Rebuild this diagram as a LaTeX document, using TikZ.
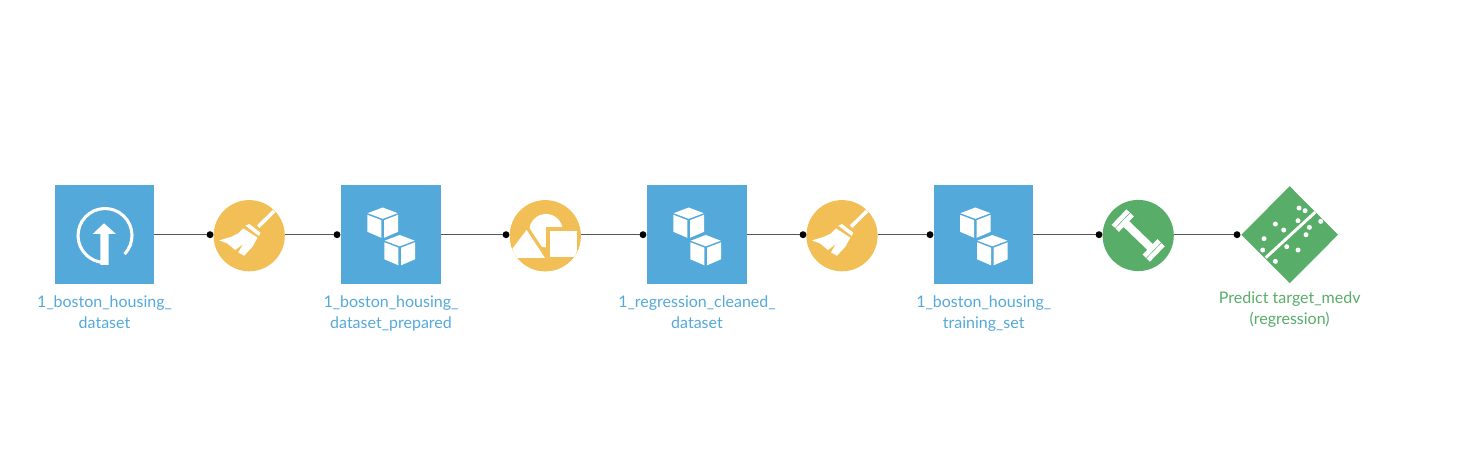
\documentclass[tikz,border=0pt]{standalone}
\usepackage{fontspec}
\setmainfont{Lato}
\definecolor{dsblue}{HTML}{54A9DB}
\definecolor{dsorange}{HTML}{F2BF56}
\definecolor{dsgreen}{HTML}{58AD68}
\definecolor{dsline}{HTML}{555555}
\tikzset{
  x=0.75pt,y=-0.75pt,
  dataset/.style={draw=none,fill=dsblue,minimum size=74.6pt,inner sep=0pt,outer sep=0pt},
  recipe/.style={circle,draw=none,fill=#1,minimum size=53.4pt,inner sep=0pt,outer sep=0pt},
  modelbox/.style={draw=none,inner sep=0pt,outer sep=0pt,minimum size=1pt},
  portdot/.style={circle,fill=black,minimum size=5.2pt,inner sep=0pt,outer sep=0pt},
  link/.style={draw=dsline,line width=0.95pt},
  lab/.style={align=center,font=\fontsize{12pt}{15.8pt}\selectfont,inner sep=0pt},
  cubeicon/.pic={
    \foreach \ox/\oy in {-8.3/-27,8.7/0.5}{
      \begin{scope}[shift={(\ox,\oy)}]
      \fill[white] (0,0)--(15,5.7)--(0,11.3)--(-15,5.7)--cycle;
      \fill[white] (-15.3,7.3)--(-1.3,12.7)--(-1.3,30.3)--(-15.3,24.3)--cycle;
      \fill[white] (15.3,7.3)--(1.3,12.7)--(1.3,30.3)--(15.3,24.3)--cycle;
      \end{scope}
    }
  },
  uploadicon/.pic={
    \draw[white,line width=2.3pt] (20.1,19.6) arc[start angle=43.5,end angle=-268,radius=27];
    \fill[white] (-0.5,-11.2)--(11.5,-0.5)--(4.2,-0.5)--(4.2,30.5)--(-4.2,30.5)--(-4.2,-0.5)--(-11.8,-0.5)--cycle;
  },
  broomicon/.pic={
    \draw[white,line width=2.7pt] (25,-24.7)--(9,-9);
    \fill[white] (-3.7,-10)--(0,-11.7)--(11.3,-3)--(9.7,0.3)--cycle;
    \fill[white] (-6,-7.3)--(8.3,2)--(3.3,11)--(-5,20)--(-11,16.7)--(-6,8.3)--(-14,14.3)--(-22,7.7)--(-30,4.7)--(-17.7,1)--(-11,-2.3)--cycle;
  },
  shapeicon/.pic={
    \begin{scope}
      \clip (0,0) circle[radius=35.6];
      \fill[white] (0.7,-5) circle[radius=16.7];
      \draw[dsorange,line width=5pt,line join=miter] (-18.7,-5.7)--(-40.3,22.7)--(0,22.7)--cycle;
      \fill[white] (-18.7,-5.7)--(-40.3,22.7)--(0,22.7)--cycle;
      \draw[dsorange,line width=6pt] (4.7,-5) rectangle (31.7,21.7);
      \fill[white] (4.7,-5) rectangle (31.7,21.7);
      \fill[dsorange] (-38,22.7) rectangle (40,40);
    \end{scope}
  },
  dumbbellicon/.pic={
    \begin{scope}[rotate=-44]
      \fill[white] (-17,-4) rectangle (17,4);
      \fill[white] (-21.2,-10.7) rectangle (-16.4,10.7);
      \fill[white] (16.4,-10.7) rectangle (21.2,10.7);
      \fill[white] (-26.6,-10.7) rectangle (-22,10.7);
      \fill[white] (22,-10.7) rectangle (26.6,10.7);
    \end{scope}
  },
  modelicon/.pic={
    \fill[dsgreen] (-48.3,0)--(0,-48.5)--(48.3,0)--(0,48.5)--cycle;
    \draw[white,line width=2.2pt] (25.5,-22.5)--(-24,23);
    \foreach \a/\b in {657/114,675/122,586/162,654/152,722/154,688/172,611/180,678/194,552/206,548/240,620/230,654/240,586/274}{
      \fill[white] ({(\a-629)/3},{(\b-194)/3}) circle[radius=2.5];
    }
  }
}
\begin{document}
\begin{tikzpicture}
\useasboundingbox (0,0) rectangle (1464,466);
% main nodes
\node[dataset] (d1) at (104.5,234.5) {};
\node[recipe=dsorange] (r1) at (249.2,235.7) {};
\node[dataset] (d2) at (391,234.5) {};
\node[recipe=dsorange] (r2) at (545.3,235.7) {};
\node[dataset] (d3) at (697,234.5) {};
\node[recipe=dsorange] (r3) at (842,235.7) {};
\node[dataset] (d4) at (983.7,234.5) {};
\node[recipe=dsgreen] (r4) at (1138.2,235.5) {};
\node[modelbox] (m) at (1289.7,234.7) {};
% ports
\node[portdot] (p1) at (210,234.7) {};
\node[portdot] (p2) at (337,234.7) {};
\node[portdot] (p3) at (506,234.7) {};
\node[portdot] (p4) at (643,234.7) {};
\node[portdot] (p5) at (803,234.7) {};
\node[portdot] (p6) at (930,234.7) {};
\node[portdot] (p7) at (1099,234.7) {};
\node[portdot] (p8) at (1237,234.7) {};
% connectors
\draw[link] (d1.east |- p1) -- (p1);
\draw[link] (r1.east |- p2) -- (p2);
\draw[link] (d2.east |- p3) -- (p3);
\draw[link] (r2.east |- p4) -- (p4);
\draw[link] (d3.east |- p5) -- (p5);
\draw[link] (r3.east |- p6) -- (p6);
\draw[link] (d4.east |- p7) -- (p7);
\draw[link] (r4.east |- p8) -- (p8);
% icons
\pic at (d1.center) {uploadicon};
\pic at (r1.center) {broomicon};
\pic at (d2.center) {cubeicon};
\pic at (r2.center) {shapeicon};
\pic at (d3.center) {cubeicon};
\pic at (r3.center) {broomicon};
\pic at (d4.center) {cubeicon};
\pic at (r4.center) {dumbbellicon};
\pic at (m.center) {modelicon};
% labels
\node[lab,text=dsblue,anchor=north] (l1) at (104.5,295) {1\_boston\_housing\_\\dataset};
\node[lab,text=dsblue,anchor=north] (l2) at (391,295) {1\_boston\_housing\_\\dataset\_prepared};
\node[lab,text=dsblue,anchor=north] (l3) at (697,295) {1\_regression\_cleaned\_\\dataset};
\node[lab,text=dsblue,anchor=north] (l4) at (983.7,295) {1\_boston\_housing\_\\training\_set};
\node[lab,text=dsgreen,anchor=north] (l5) at (1289.7,291.5) {Predict target\_medv\\(regression)};
\end{tikzpicture}
\end{document}
